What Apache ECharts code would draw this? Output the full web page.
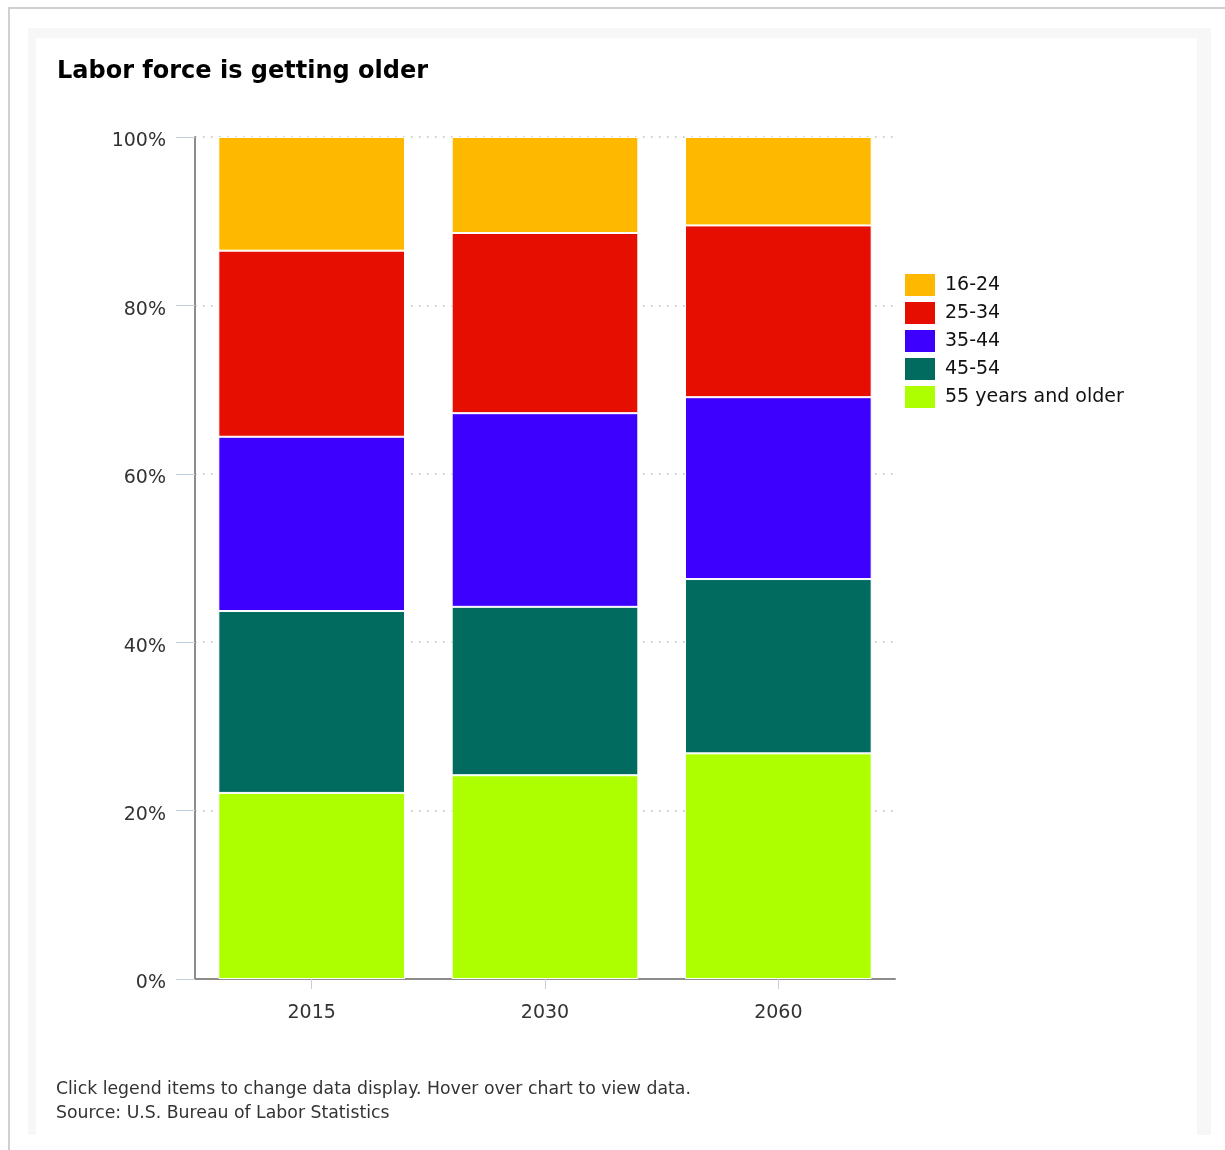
<!DOCTYPE html>
<html>
<head>
<meta charset="utf-8">
<script src="https://cdn.jsdelivr.net/npm/echarts@6/dist/echarts.min.js"></script>
<style>
  html, body { margin: 0; padding: 0; background: #fff; }
  #wrap { position: relative; width: 1225px; height: 1150px; overflow: hidden; }
  #frame { position: absolute; left: 8px; top: 7px; width: 1230px; height: 1160px; border-left: 2px solid #d0d0d0; border-top: 2px solid #d0d0d0; box-sizing: border-box; }
  #panel { position: absolute; left: 28px; top: 28px; width: 1183px; height: 1107px; background: #f7f7f7; }
  #inner { position: absolute; left: 36px; top: 38px; width: 1161px; height: 1097px; background: #fff; }
  #chart { position: absolute; left: 0; top: 0; width: 1225px; height: 1150px; }
</style>
</head>
<body>
<div id="wrap">
  <div id="frame"></div>
  <div id="panel"></div>
  <div id="inner"></div>
  <div id="chart"></div>
</div>
<script>
const categories = ['2015', '2030', '2060'];
const seriesNames = ['16-24', '25-34', '35-44', '45-54', '55 years and older'];
const age16to24 = [13.5, 11.4, 10.5];
const age25to34 = [22.1, 21.4, 20.4];
const age35to44 = [20.7, 23.0, 21.6];
const age45to54 = [21.6, 20.0, 20.7];
const age55plus = [22.1, 24.2, 26.8];
const yTicks = [0, 20, 40, 60, 80, 100];

const colors = {
  '16-24': '#FFB800',
  '25-34': '#E60E00',
  '35-44': '#3D00FF',
  '45-54': '#006B5E',
  '55 years and older': '#ADFF00'
};

const dataByName = {
  '16-24': age16to24,
  '25-34': age25to34,
  '35-44': age35to44,
  '45-54': age45to54,
  '55 years and older': age55plus
};

const stackOrder = ['55 years and older', '45-54', '35-44', '25-34', '16-24'];
const series = stackOrder.map(name => ({
  name: name,
  type: 'bar',
  stack: 'total',
  barCategoryGap: '20%',
  data: dataByName[name],
  itemStyle: { color: colors[name], borderColor: '#ffffff', borderWidth: 1 },
  emphasis: { disabled: true }
}));

const chart = echarts.init(document.getElementById('chart'), null, { renderer: 'canvas' });
chart.setOption({
  backgroundColor: 'transparent',
  animation: false,
  color: seriesNames.map(n => colors[n]),
  title: {
    text: 'Labor force is getting older',
    left: 52,
    top: 55,
    textStyle: { fontFamily: 'DejaVu Sans', fontSize: 24, fontWeight: 'bold', color: '#000' }
  },
  legend: {
    data: seriesNames,
    orient: 'vertical',
    left: 898,
    top: 267,
    itemWidth: 32,
    itemHeight: 24,
    itemGap: 2,
    icon: 'rect',
    selectedMode: true,
    textStyle: { fontFamily: 'DejaVu Sans', fontSize: 19, color: '#111', lineHeight: 24, padding: [0, 0, 0, 4] }
  },
  grid: { left: 195, right: 330, top: 137, bottom: 171, containLabel: false },
  xAxis: {
    type: 'category',
    data: categories,
    axisLine: { lineStyle: { color: '#8c8c8c', width: 2 } },
    axisTick: { show: true, alignWithLabel: true, length: 10, lineStyle: { color: '#c0d0e0' } },
    axisLabel: { fontFamily: 'DejaVu Sans', fontSize: 19, color: '#333', margin: 25 }
  },
  yAxis: {
    type: 'value',
    min: 0,
    max: 100,
    interval: 20,
    axisLine: { show: true, lineStyle: { color: '#8c8c8c', width: 2 } },
    axisTick: { show: true, length: 19, lineStyle: { color: '#c0d0e0' } },
    axisLabel: {
      fontFamily: 'DejaVu Sans', fontSize: 19, color: '#333', margin: 29,
      formatter: v => (yTicks.indexOf(v) >= 0 ? '{v|' + v + '%}' : ''),
      rich: { v: { fontFamily: 'DejaVu Sans', fontSize: 19, color: '#333', padding: [9, 0, 0, 0] } }
    },
    splitLine: { show: true, lineStyle: { color: '#bbbbbb', type: [1.5, 6.5], width: 1.5 } }
  },
  series: series,
  graphic: [
    {
      type: 'text', left: 56, top: 1081,
      style: { text: 'Click legend items to change data display. Hover over chart to view data.', fontFamily: 'DejaVu Sans', fontSize: 17.3, fill: '#333' }
    },
    {
      type: 'text', left: 56, top: 1105,
      style: { text: 'Source: U.S. Bureau of Labor Statistics', fontFamily: 'DejaVu Sans', fontSize: 17.3, fill: '#333' }
    }
  ]
});
</script>
</body>
</html>
